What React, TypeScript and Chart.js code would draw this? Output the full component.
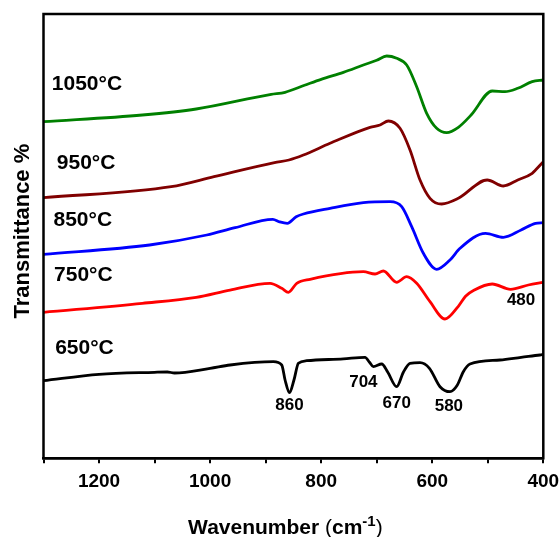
import React, { useEffect, useRef } from "react";
import { Chart, registerables } from "chart.js";

Chart.register(...registerables);

// Wavenumbers (cm-1) and transmittance (arbitrary units, offset curves)
const wn650 = [1300, 1200, 1100, 1077, 1064, 1000, 964, 886, 871, 865, 857, 849, 841, 826, 760, 721, 713, 706, 691, 680, 664, 652, 640, 622, 605, 586, 568, 555, 544, 532, 478, 440, 406, 400];
const t650 = [77.6, 84.0, 86.0, 86.3, 85.3, 90.0, 93.3, 96.6, 93.3, 78.3, 65.6, 78.3, 95.0, 97.6, 99.5, 101.0, 96.0, 91.6, 94.3, 86.0, 71.6, 86.0, 95.0, 95.6, 90.0, 71.6, 66.6, 73.0, 86.6, 94.3, 98.3, 101.0, 103.3, 103.8];

const wn750 = [1300, 1122, 1025, 964, 892, 871, 859, 844, 820, 724, 703, 688, 664, 646, 628, 604, 577, 553, 540, 525, 492, 459, 427, 400];
const t750 = [146.0, 155.0, 161.0, 168.3, 175.0, 170.0, 166.0, 175.0, 179.0, 186.6, 184.3, 187.3, 176.0, 181.6, 175.0, 156.6, 139.3, 152.0, 162.0, 168.0, 174.3, 169.0, 173.3, 176.0];

const wn850 = [1300, 1109, 1006, 955, 887, 875, 861, 845, 832, 784, 724, 676, 655, 637, 616, 592, 568, 550, 504, 472, 440, 414, 400];
const t850 = [204.0, 213.3, 223.3, 230.6, 239.0, 236.5, 235.0, 241.5, 244.3, 250.0, 255.6, 256.6, 251.6, 231.6, 205.0, 189.0, 198.3, 210.0, 225.0, 221.0, 228.3, 235.0, 235.6];

const wn950 = [1300, 1070, 993, 884, 858, 832, 784, 712, 694, 679, 658, 640, 622, 604, 583, 553, 501, 472, 446, 420, 414, 400];
const t950 = [260.6, 271.6, 281.6, 295.6, 298.3, 303.3, 315.0, 331.0, 333.3, 337.3, 330.0, 308.3, 278.3, 260.0, 254.3, 260.0, 278.3, 272.3, 278.3, 285.0, 288.3, 296.6];

const wn1050 = [1300, 1122, 1025, 890, 865, 830, 800, 760, 724, 700, 682, 664, 646, 628, 610, 592, 574, 553, 530, 492, 469, 446, 420, 400];
const t1050 = [336.6, 343.3, 349.3, 364.0, 366.0, 373.0, 379.0, 386.0, 393.3, 398.0, 402.3, 400.0, 393.3, 371.6, 345.0, 330.0, 325.6, 331.0, 343.3, 367.3, 366.6, 370.0, 376.6, 378.3];

// Curve labels
const curveNames = ["1050°C", "950°C", "850°C", "750°C", "650°C"];
const curveLabelWn = [1285, 1276, 1282, 1281, 1279];
const curveLabelT = [374.3, 295.0, 238.3, 183.3, 110.0];

// Peak labels
const peakNames = ["860", "704", "670", "580", "480"];
const peakLabelWn = [857, 724, 664, 570, 440];
const peakLabelT = [53.0, 76.0, 54.6, 52.0, 158.3];

const xTickMin = 400;
const xTickMax = 1300;

const FONT = "'Liberation Sans', Arial, sans-serif";

const toPts = (xs: number[], ys: number[]) => xs.map((x, i) => ({ x, y: ys[i] }));

export default function App() {
  const ref = useRef<HTMLCanvasElement | null>(null);

  useEffect(() => {
    if (!ref.current) return;

    const framePlugin = {
      id: "frameAndText",
      afterDatasetsDraw(chart: any) {
        const { ctx, chartArea, scales } = chart;
        const xs = scales.x;
        const ys = scales.y;
        ctx.save();
        // frame
        ctx.strokeStyle = "#000";
        ctx.lineWidth = 2.5;
        ctx.strokeRect(chartArea.left, chartArea.top, chartArea.right - chartArea.left, chartArea.bottom - chartArea.top);

        ctx.fillStyle = "#000";
        ctx.textBaseline = "middle";
        // curve labels
        ctx.font = `bold 21px ${FONT}`;
        ctx.textAlign = "left";
        curveNames.forEach((n, i) => {
          ctx.fillText(n, xs.getPixelForValue(curveLabelWn[i]), ys.getPixelForValue(curveLabelT[i]));
        });
        // peak labels
        ctx.font = `bold 17px ${FONT}`;
        ctx.textAlign = "center";
        peakNames.forEach((n, i) => {
          ctx.fillText(n, xs.getPixelForValue(peakLabelWn[i]), ys.getPixelForValue(peakLabelT[i]));
        });

        // x-axis title with superscript
        const cx = (chartArea.left + chartArea.right) / 2 - 8;
        const ty = 526;
        const parts: { t: string; f: string; dy: number }[] = [
          { t: "Wavenumber ", f: `bold 21px ${FONT}`, dy: 0 },
          { t: "(", f: `21px ${FONT}`, dy: 0 },
          { t: "cm", f: `bold 21px ${FONT}`, dy: 0 },
          { t: "-1", f: `bold 15px ${FONT}`, dy: -8 },
          { t: ")", f: `21px ${FONT}`, dy: 0 },
        ];
        let total = 0;
        parts.forEach((p) => {
          ctx.font = p.f;
          total += ctx.measureText(p.t).width;
        });
        let px = cx - total / 2;
        ctx.textAlign = "left";
        ctx.textBaseline = "alphabetic";
        parts.forEach((p) => {
          ctx.font = p.f;
          ctx.fillText(p.t, px, ty + 7.5 + p.dy);
          px += ctx.measureText(p.t).width;
        });

        // y-axis title
        ctx.save();
        ctx.translate(22.5, (chartArea.top + chartArea.bottom) / 2 - 5);
        ctx.rotate(-Math.PI / 2);
        ctx.font = `bold 22px ${FONT}`;
        ctx.textAlign = "center";
        ctx.textBaseline = "middle";
        ctx.fillText("Transmittance %", 0, 0);
        ctx.restore();

        ctx.restore();
      },
    };

    const mk = (xs: number[], ys: number[], color: string) => ({
      data: toPts(xs, ys),
      borderColor: color,
      backgroundColor: color,
      borderWidth: 2.8,
      pointRadius: 0,
      tension: 0.4,
      cubicInterpolationMode: "monotone" as const,
      fill: false,
    });

    const chart = new Chart(ref.current, {
      type: "line",
      data: {
        datasets: [
          mk(wn650, t650, "#000000"),
          mk(wn750, t750, "#ff0000"),
          mk(wn850, t850, "#0000ff"),
          mk(wn950, t950, "#800000"),
          mk(wn1050, t1050, "#008000"),
        ],
      },
      options: {
        responsive: false,
        animation: false,
        devicePixelRatio: 1,
        layout: { padding: { top: 14, left: 43.5, right: 15.7, bottom: 0 } },
        plugins: { legend: { display: false }, tooltip: { enabled: false }, title: { display: false } },
        scales: {
          x: {
            type: "linear",
            reverse: true,
            min: xTickMin,
            max: xTickMax,
            grid: { display: true, drawOnChartArea: false, drawTicks: true, tickLength: 5, color: "#000", lineWidth: 2 },
            border: { display: true, color: "#000", width: 2.5 },
            ticks: {
              stepSize: 100,
              autoSkip: false,
              maxRotation: 0,
              padding: 7,
              color: "#000",
              font: { family: FONT, size: 19, weight: "bold" },
              callback: (v: any) => (Number(v) % 200 === 0 ? String(v) : ""),
            },
            afterFit: (scale: any) => {
              scale.height = 78.7;
              scale.paddingLeft = 0;
              scale.paddingRight = 0;
            },
          },
          y: {
            type: "linear",
            display: false,
            min: 0,
            max: 444.3,
          },
        },
      },
      plugins: [framePlugin],
    } as any);

    return () => chart.destroy();
  }, []);

  return (
    <div style={{ position: "absolute", left: 0, top: 0, width: 559, height: 537, background: "#fff" }}>
      <canvas ref={ref} width={559} height={537} style={{ display: "block" }} />
    </div>
  );
}
